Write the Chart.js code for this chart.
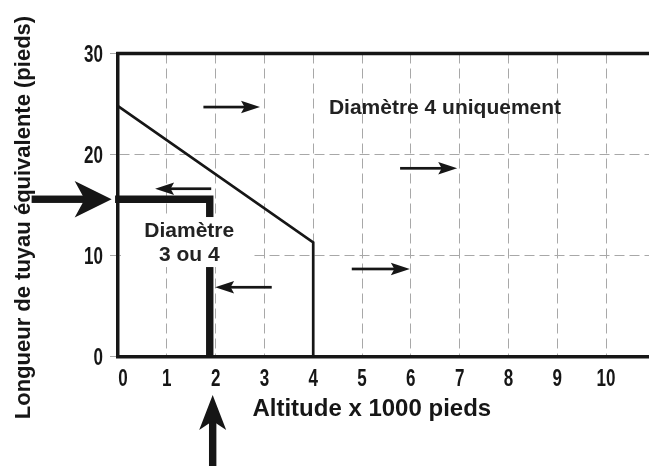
<!DOCTYPE html>
<html lang="fr">
<head>
<meta charset="utf-8">
<title>Diamètre du tuyau selon l'altitude</title>
<script src="https://cdn.jsdelivr.net/npm/chart.js@4/dist/chart.umd.min.js"></script>
<style>
  html, body { margin: 0; padding: 0; background: #fff; }
  #wrap { width: 649px; height: 466px; }
  canvas { display: block; }
</style>
</head>
<body>
<div id="wrap"><canvas id="c" width="649" height="466"></canvas></div>
<script>
// Axis ticks
const altitudeTicks = [0, 1, 2, 3, 4, 5, 6, 7, 8, 9, 10];   // x 1000 pieds
const lengthTicks = [0, 10, 20, 30];                        // pieds

// Limit between "3 ou 4" and "4 uniquement"
const limitAltitude = [0, 4, 4];
const limitLength = [24.8, 11.3, 0];

// Worked example: 15.6 ft of pipe at about 1 900 ft
const exampleAltitude = [-0.06, 1.88, 1.88];
const exampleLength = [15.58, 15.58, 0];

// Small direction arrows inside the plot (tail -> head)
const arrowFromAlt = [1.75, 1.91, 5.78, 3.15, 4.79];
const arrowToAlt = [2.91, 0.76, 6.95, 1.99, 5.98];
const arrowLength = [24.7, 16.62, 18.64, 6.87, 8.68];

// Region labels
const regionLabels = [
  { lines: ['Diamètre 4 uniquement'], alt: 6.7, len: [24.0] },
  { lines: ['Diamètre', '3 ou 4'], alt: 1.46, len: [11.81, 9.5] }
];

const INK = '#161616';
const GRID = '#a8a8a8';
const TEXT_FONT = '"Liberation Sans", Arial, Helvetica, sans-serif';
const TICK_FONT = 'bold 23px ' + TEXT_FONT;
const TICK_SQUEEZE = 0.74;   // condensed look for the tick numbers

function toPoints(xs, ys) {
  return xs.map((v, i) => ({ x: v, y: ys[i] }));
}

function drawArrow(ctx, x0, y0, x1, y1, shaft, headLen, headHalf, notch) {
  const ang = Math.atan2(y1 - y0, x1 - x0);
  const len = Math.hypot(x1 - x0, y1 - y0);
  ctx.save();
  ctx.translate(x0, y0);
  ctx.rotate(ang);
  ctx.fillStyle = INK;
  ctx.fillRect(0, -shaft / 2, len - headLen + notch + 1, shaft);
  ctx.beginPath();
  ctx.moveTo(len, 0);
  ctx.lineTo(len - headLen, -headHalf);
  ctx.lineTo(len - headLen + notch, 0);
  ctx.lineTo(len - headLen, headHalf);
  ctx.closePath();
  ctx.fill();
  ctx.restore();
}

// condensed tick number: (px, py) is the anchor, align 'center' or 'right'
function tickText(ctx, text, px, py, align) {
  ctx.save();
  ctx.translate(px, py);
  ctx.scale(TICK_SQUEEZE, 1);
  ctx.textAlign = align;
  ctx.textBaseline = 'alphabetic';
  ctx.fillText(text, 0, 0);
  ctx.restore();
}

const decorations = {
  id: 'decorations',
  beforeDatasetsDraw(chart) {
    const { ctx, chartArea: a } = chart;
    ctx.save();
    ctx.strokeStyle = INK;
    ctx.lineWidth = 3.5;
    ctx.beginPath();
    ctx.moveTo(a.left - 1.75, a.top);
    ctx.lineTo(a.right, a.top);
    ctx.stroke();
    ctx.restore();
  },
  afterDatasetsDraw(chart) {
    const { ctx, scales: { x, y }, chartArea: a } = chart;
    ctx.save();

    // white backing behind the "3 ou 4" label
    const bx0 = x.getPixelForValue(0.06), bx1 = x.getPixelForValue(2.75);
    const by0 = y.getPixelForValue(13.82), by1 = y.getPixelForValue(8.87);
    ctx.fillStyle = '#fff';
    ctx.fillRect(bx0, by0, bx1 - bx0, by1 - by0);

    // region labels
    ctx.fillStyle = '#222';
    ctx.font = 'bold 21px ' + TEXT_FONT;
    ctx.textAlign = 'center';
    ctx.textBaseline = 'alphabetic';
    regionLabels.forEach(r => {
      r.lines.forEach((t, i) => {
        ctx.fillText(t, x.getPixelForValue(r.alt), y.getPixelForValue(r.len[i]));
      });
    });

    // small direction arrows
    arrowFromAlt.forEach((v, i) => {
      const yy = y.getPixelForValue(arrowLength[i]);
      drawArrow(ctx, x.getPixelForValue(v), yy, x.getPixelForValue(arrowToAlt[i]), yy, 2.7, 19, 6.2, 3.5);
    });

    // entry arrows for the worked example
    const ey = y.getPixelForValue(exampleLength[0]);
    drawArrow(ctx, x.getPixelForValue(-1.77), ey, x.getPixelForValue(-0.13), ey, 7.4, 37, 18.3, 10);
    const ex = x.getPixelForValue(1.94);
    drawArrow(ctx, ex, y.getPixelForValue(-11), ex, y.getPixelForValue(-3.8), 7.4, 35, 13.5, 9);

    // tick numbers
    ctx.fillStyle = INK;
    ctx.font = TICK_FONT;
    x.ticks.forEach(t => tickText(ctx, String(t.value), x.getPixelForValue(t.value) + (t.value === 0 ? 5 : 0), a.bottom + 29.2, 'center'));
    y.ticks.forEach(t => tickText(ctx, String(t.value), a.left - 15, y.getPixelForValue(t.value) + 8.3, 'right'));

    // axis titles
    ctx.font = 'bold 24px ' + TEXT_FONT;
    ctx.textAlign = 'center';
    ctx.textBaseline = 'alphabetic';
    ctx.fillText('Altitude x 1000 pieds', x.getPixelForValue(5.2), a.bottom + 59.3);

    ctx.font = 'bold 22px ' + TEXT_FONT;
    ctx.translate(30, y.getPixelForValue(13.77));
    ctx.rotate(-Math.PI / 2);
    ctx.fillText('Longueur de tuyau équivalente (pieds)', 0, 0);
    ctx.restore();
  }
};

new Chart(document.getElementById('c'), {
  type: 'line',
  data: {
    datasets: [
      {
        data: toPoints(limitAltitude, limitLength),
        borderColor: INK,
        borderWidth: 2.7,
        pointRadius: 0,
        tension: 0,
        fill: false,
        borderJoinStyle: 'miter'
      },
      {
        data: toPoints(exampleAltitude, exampleLength),
        borderColor: INK,
        borderWidth: 7.4,
        pointRadius: 0,
        tension: 0,
        fill: false,
        borderCapStyle: 'butt',
        borderJoinStyle: 'miter',
        clip: false
      }
    ]
  },
  options: {
    responsive: false,
    animation: false,
    events: [],
    layout: { padding: { top: 53.5, left: 0, right: 0, bottom: 0 } },
    plugins: { legend: { display: false }, tooltip: { enabled: false }, title: { display: false } },
    scales: {
      x: {
        type: 'linear',
        min: 0,
        max: 10.88,
        afterBuildTicks: s => { s.ticks = altitudeTicks.map(v => ({ value: v })); },
        afterFit: s => { s.height = 109.3; },
        ticks: { display: false },
        grid: { color: GRID, lineWidth: 1, drawTicks: false },
        border: { display: true, color: INK, width: 3.5, dash: [10, 5] }
      },
      y: {
        type: 'linear',
        min: 0,
        max: 30,
        afterBuildTicks: s => { s.ticks = lengthTicks.map(v => ({ value: v })); },
        afterFit: s => { s.width = 118; },
        ticks: { display: false },
        grid: { color: GRID, lineWidth: 1, tickLength: 8, tickColor: GRID },
        border: { display: true, color: INK, width: 3.5, dash: [10, 5] }
      }
    }
  },
  plugins: [decorations]
});
</script>
</body>
</html>
